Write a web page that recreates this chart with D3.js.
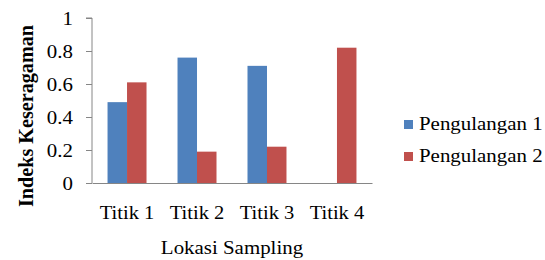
<!DOCTYPE html>
<html>
<head>
<meta charset="utf-8">
<script src="https://d3js.org/d3.v7.min.js"></script>
</head>
<body style="margin:0">
<script>
var categories = ["Titik 1", "Titik 2", "Titik 3", "Titik 4"];
var seriesNames = ["Pengulangan 1", "Pengulangan 2"];
var pengulangan1 = [0.49, 0.76, 0.71, 0];
var pengulangan2 = [0.61, 0.19, 0.22, 0.82];
var yTicks = [0, 0.2, 0.4, 0.6, 0.8, 1];
var yTickLabels = ["0", "0.2", "0.4", "0.6", "0.8", "1"];
var colors = ["#4f81bd", "#c0504d"];
var serif = "'Liberation Serif'";

var width = 545, height = 260;
var svg = d3.select("body").append("svg")
    .attr("width", width).attr("height", height);

// the source picture is a bit wider than the font, stretch texts a little
function stretch(sel, k){
    sel.each(function(){
        var w = this.getComputedTextLength();
        d3.select(this).attr("textLength", w * k).attr("lengthAdjust", "spacingAndGlyphs");
    });
}

var x = d3.scaleBand().domain(categories).range([92, 372]).paddingInner(0.443).paddingOuter(0.222);
var xs = d3.scaleBand().domain(seriesNames).range([0, x.bandwidth()]);
var y = d3.scaleLinear().domain([0, 1]).range([183, 18]);

var data = [pengulangan1, pengulangan2];

// bars
seriesNames.forEach(function(s, si){
    svg.append("g").selectAll("rect")
        .data(data[si])
        .enter().append("rect")
        .attr("x", function(d, i){ return x(categories[i]) + xs(s); })
        .attr("y", function(d){ return y(d); })
        .attr("width", xs.bandwidth())
        .attr("height", function(d){ return y(0) - y(d); })
        .attr("fill", colors[si]);
});

// y axis
var yAxis = d3.axisLeft(y).tickValues(yTicks)
    .tickFormat(function(d, i){ return yTickLabels[i]; })
    .tickSize(6).tickPadding(13);
var gy = svg.append("g").attr("transform", "translate(92,0)").call(yAxis);
gy.select(".domain").attr("stroke", "#868686").attr("d", "M-6," + y(1) + "H0V" + y(0));
gy.selectAll(".tick line").attr("stroke", "#868686");
gy.selectAll(".tick text").attr("fill", "#000")
    .style("font-family", serif).style("font-size", "19px")
    .call(stretch, 1.1);

// x axis
var xAxis = d3.axisBottom(x).tickSize(0).tickPadding(23);
var gx = svg.append("g").attr("transform", "translate(0," + y(0) + ")").call(xAxis);
gx.select(".domain").attr("stroke", "#868686");
gx.selectAll(".tick text").attr("fill", "#000")
    .style("font-family", serif).style("font-size", "19px")
    .call(stretch, 1.08);

// axis titles
svg.append("text")
    .attr("x", 232).attr("y", 254)
    .attr("text-anchor", "middle")
    .style("font-family", serif).style("font-size", "19px")
    .text("Lokasi Sampling")
    .call(stretch, 1.1);

svg.append("text")
    .attr("transform", "translate(33,116) rotate(-90)")
    .attr("text-anchor", "middle")
    .style("font-family", serif).style("font-size", "21px").style("font-weight", "bold")
    .text("Indeks Keseragaman")
    .attr("textLength", 182).attr("lengthAdjust", "spacingAndGlyphs");

// legend
var legend = svg.append("g").selectAll("g")
    .data(seriesNames).enter().append("g")
    .attr("transform", function(d, i){ return "translate(404," + (124 + i * 32) + ")"; });
legend.append("rect")
    .attr("x", 0).attr("y", -4).attr("width", 9).attr("height", 9)
    .attr("fill", function(d, i){ return colors[i]; });
legend.append("text")
    .attr("x", 15).attr("y", 6)
    .style("font-family", serif).style("font-size", "19px")
    .text(function(d){ return d; })
    .call(stretch, 1.1);
</script>
</body>
</html>
